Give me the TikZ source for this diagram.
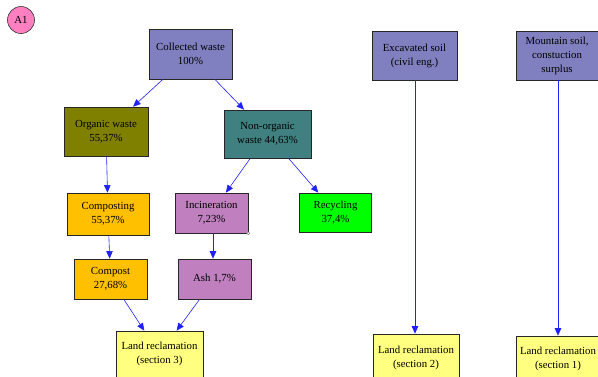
\documentclass[tikz,border=0pt]{standalone}
\usepackage{fontspec}
\setmainfont{Liberation Serif}
\usetikzlibrary{arrows.meta}
\definecolor{cperi}{HTML}{8080C0}
\definecolor{colive}{HTML}{808000}
\definecolor{cteal}{HTML}{408080}
\definecolor{camber}{HTML}{FFC000}
\definecolor{cmauve}{HTML}{C080C0}
\definecolor{cgreen}{HTML}{00FF00}
\definecolor{cyell}{HTML}{FFFF80}
\definecolor{cpink}{HTML}{FF80C0}
\definecolor{carrow}{HTML}{2020FF}
\begin{document}
\begin{tikzpicture}[x=1pt,y=-1pt,
  wbox/.style={draw=black!85, line width=0.7pt, align=center, inner sep=0pt,
    font=\fontsize{10.8}{14}\selectfont, text=black},
  arr/.style={draw=carrow, line width=0.6pt, -{Triangle[length=7.5pt,width=6.5pt]}}]
\useasboundingbox (0,0) rectangle (598,376);
\clip (0,0) rectangle (598,376);
\node[draw=black!80, line width=0.6pt, fill=cpink, circle, minimum size=27pt, inner sep=0pt, font=\fontsize{10.8}{12}\selectfont] (a1) at (21,20) {A1};
\node[wbox, fill=cperi, minimum width=83pt, minimum height=50pt] (cw) at (190.5,54) {Collected waste\\100\%};
\node[wbox, fill=colive, minimum width=84pt, minimum height=49pt] (ow) at (106,131.5) {Organic waste\\55,37\%};
\node[wbox, fill=cteal, minimum width=87pt, minimum height=48pt] (nw) at (267.5,134) {Non-organic\\waste 44,63\%};
\node[wbox, fill=cperi, minimum width=85pt, minimum height=49pt] (es) at (414.5,55.5) {Excavated soil\\(civil eng.)};
\node[wbox, fill=cperi, minimum width=82pt, minimum height=49pt] (ms) at (557,55.5) {Mountain soil,\\constuction\\surplus};
\node[wbox, fill=camber, minimum width=82pt, minimum height=42pt] (cp) at (108,214) {Composting\\55,37\%};
\node[wbox, fill=cmauve, minimum width=73pt, minimum height=40pt] (in) at (211.5,213) {Incineration\\7,23\%};
\node[wbox, fill=cgreen, minimum width=72pt, minimum height=39pt] (rc) at (335.5,212.5) {Recycling\\37,4\%};
\node[wbox, fill=camber, minimum width=73pt, minimum height=40pt] (co) at (110.5,279) {Compost\\27,68\%};
\node[wbox, fill=cmauve, minimum width=73pt, minimum height=40pt] (ash) at (214.5,279) {Ash 1,7\%};
\node[wbox, fill=cyell, minimum width=87pt, minimum height=46pt] (l3) at (159.5,354) {Land reclamation\\(section 3)};
\node[wbox, fill=cyell, minimum width=86pt, minimum height=47pt] (l2) at (416,357.5) {Land reclamation\\(section 2)};
\node[wbox, fill=cyell, minimum width=84pt, minimum height=45pt] (l1) at (558,358.5) {Land reclamation\\(section 1)};
\draw[gray, fill=white, line width=0.4pt] (in.south east) circle (1.5pt);
\draw[arr] (cw) -- (ow);
\draw[arr] (cw) -- (nw);
\draw[arr] (ow) -- (cp);
\draw[arr] (nw) -- (in);
\draw[arr] (nw) -- (rc);
\draw[arr] (cp) -- (co);
\draw[arr] (in.south) ++(1.5,0) coordinate (ins) -- (ins |- ash.north);
\draw[arr] (co) -- (l3);
\draw[arr] (ash) -- (l3);
\draw[arr] (es.south) ++(0.5,0) coordinate (ess) -- (ess |- l2.north);
\draw[arr] (ms.south) ++(1,0) coordinate (mss) -- (mss |- l1.north);
\end{tikzpicture}
\end{document}
